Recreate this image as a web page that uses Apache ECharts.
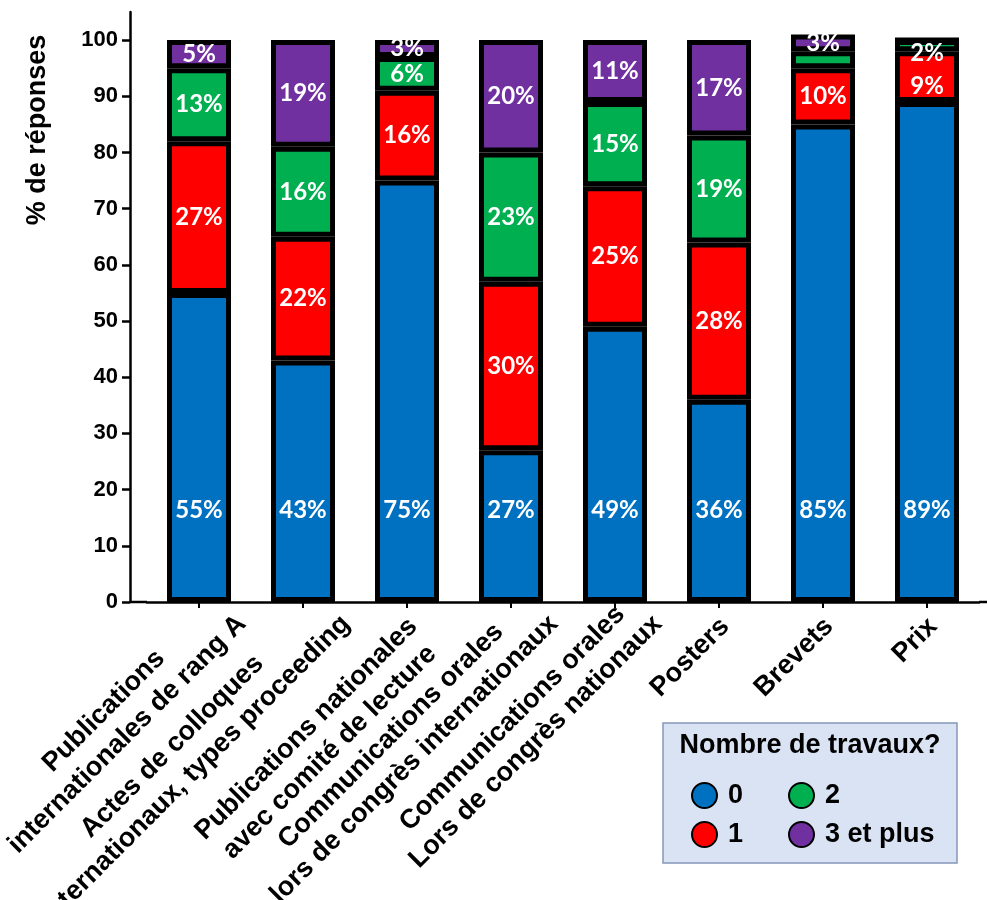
<!DOCTYPE html>
<html>
<head>
<meta charset="utf-8">
<script src="https://cdn.jsdelivr.net/npm/echarts@6/dist/echarts.min.js"></script>
<style>
html, body { margin: 0; padding: 0; background: #fff; }
#chart { width: 987px; height: 900px; }
</style>
</head>
<body>
<div id="chart"></div>
<script>
// categories (two lines each, as in the figure)
var categories = [
    "Publications\ninternationales de rang A",
    "Actes de colloques\ninternationaux, types proceeding",
    "Publications nationales\navec comité de lecture",
    "Communications orales\nlors de congrès internationaux",
    "Communications orales\nLors de congrès nationaux",
    "Posters",
    "Brevets",
    "Prix"
];
var seriesNames = ["0", "1", "2", "3 et plus"];

// % de réponses per number of works
var zeroWorks = [55, 43, 75, 27, 49, 36, 85, 89];
var oneWork = [27, 22, 16, 30, 25, 28, 10, 9];
var twoWorks = [13, 16, 6, 23, 15, 19, 3, 2];
var threePlus = [5, 19, 3, 20, 11, 17, 3, 0];

var yTicks = [0, 10, 20, 30, 40, 50, 60, 70, 80, 90, 100];

var colors = ["#0070C0", "#FF0000", "#00B050", "#7030A0"];
var axisFont = "Liberation Sans";
var labelFont = "bold 27px '" + axisFont + "'";

// layout
var gridLeft = 147;
var gridRight = 8;
var gridTop = 12;
var gridBottom = 298;
var yOffset = 17;
var axisY = 900 - gridBottom;

// labels that are hidden / nudged in the original figure
var hiddenLabels = { "Brevets": [2] };
var labelNudge = { "Prix": { 1: [0, 10], 2: [0, 8] } };

var chart = echarts.init(document.getElementById("chart"));

// the original puts labels whose last line is the longest a bit further along
var ctx = document.createElement("canvas").getContext("2d");
ctx.font = labelFont;
function lastLineLongest(name) {
    var lines = name.split("\n");
    if (lines.length < 2) return false;
    var w = lines.map(function(l) { return ctx.measureText(l).width; });
    return w[w.length - 1] > Math.max.apply(null, w.slice(0, -1));
}

function richLines(val) {
    return val.split("\n").map(function(line) {
        return "{c|" + line + "}";
    }).join("\n");
}

var richStyle = {
    c: {
        align: "center",
        fontFamily: axisFont,
        fontWeight: "bold",
        fontSize: 27,
        lineHeight: 33,
        color: "#000"
    }
};

var allValues = [zeroWorks, oneWork, twoWorks, threePlus];
var series = allValues.map(function(vals, s) {
    return {
        name: seriesNames[s],
        type: "bar",
        stack: "total",
        xAxisIndex: 0,
        barWidth: 64,
        itemStyle: {
            color: colors[s],
            borderColor: "#000",
            borderWidth: 5
        },
        label: {
            show: true,
            position: s === 0 ? "insideBottom" : "inside",
            distance: s === 0 ? 80 : 5,
            color: "#fff",
            fontFamily: "Lato",
            fontWeight: "bold",
            fontSize: 24,
            formatter: function(p) {
                return p.value === 0 ? "" : p.value + "%";
            }
        },
        data: vals.map(function(v, i) {
            var cat = categories[i];
            var item = { value: v };
            if (hiddenLabels[cat] && hiddenLabels[cat].indexOf(s) >= 0) {
                item.label = { show: false };
            }
            if (labelNudge[cat] && labelNudge[cat][s]) {
                item.label = { offset: labelNudge[cat][s] };
            }
            return item;
        })
    };
});

function legendPart(names, left) {
    return {
        data: names,
        orient: "vertical",
        left: left,
        top: 782,
        padding: 0,
        itemWidth: 37,
        itemHeight: 25,
        itemGap: 12,
        icon: "circle",
        itemStyle: { borderColor: "#000", borderWidth: 2 },
        textStyle: {
            fontFamily: axisFont,
            fontWeight: "bold",
            fontSize: 27,
            color: "#000",
            lineHeight: 25
        }
    };
}

var option = {
    animation: false,
    backgroundColor: "#fff",
    grid: {
        left: gridLeft,
        right: gridRight,
        top: gridTop,
        bottom: gridBottom,
        containLabel: false,
        outerBoundsMode: "none"
    },
    legend: [
        legendPart(["0", "1"], 691),
        legendPart(["2", "3 et plus"], 788)
    ],
    xAxis: [
        {
            type: "category",
            data: categories,
            axisLine: { show: true, lineStyle: { color: "#000", width: 2.5 } },
            axisTick: {
                show: true,
                alignWithLabel: true,
                length: 6,
                lineStyle: { color: "#000", width: 2 }
            },
            axisLabel: {
                interval: 0,
                rotate: 45,
                align: "right",
                verticalAlign: "top",
                margin: 3,
                padding: [0, 8, 0, 0],
                color: "#000",
                formatter: function(val) {
                    return lastLineLongest(val) ? "" : richLines(val);
                },
                rich: richStyle
            }
        },
        {
            // second copy of the axis, only for the labels ending on their long last line
            type: "category",
            data: categories,
            position: "bottom",
            axisLine: { show: false },
            axisTick: { show: false },
            axisLabel: {
                interval: 0,
                rotate: 45,
                align: "right",
                verticalAlign: "top",
                margin: -25,
                padding: [11, 0, 0, 0],
                color: "#000",
                formatter: function(val) {
                    return lastLineLongest(val) ? richLines(val) : "";
                },
                rich: richStyle
            }
        }
    ],
    yAxis: {
        type: "value",
        min: 0,
        max: 105,
        offset: yOffset,
        splitLine: { show: false },
        axisLine: { show: true, lineStyle: { color: "#000", width: 2.5 } },
        axisTick: {
            show: true,
            length: 8,
            customValues: yTicks,
            lineStyle: { color: "#000", width: 2.5 }
        },
        axisLabel: {
            customValues: yTicks,
            margin: 12,
            color: "#000",
            fontFamily: axisFont,
            fontWeight: "bold",
            fontSize: 22
        }
    },
    graphic: [
        // x axis line runs out to the offset y axis and to the right edge
        {
            type: "line",
            shape: { x1: gridLeft - yOffset, y1: axisY, x2: gridLeft, y2: axisY },
            style: { stroke: "#000", lineWidth: 2.5 }
        },
        {
            type: "line",
            shape: { x1: 987 - gridRight, y1: axisY, x2: 987, y2: axisY },
            style: { stroke: "#000", lineWidth: 2.5 }
        },
        {
            type: "text",
            x: 38,
            y: 130,
            rotation: Math.PI / 2,
            style: {
                text: "% de réponses",
                font: labelFont,
                fill: "#000",
                align: "center",
                verticalAlign: "middle"
            }
        },
        // legend box
        {
            type: "rect",
            z: 0,
            shape: { x: 663, y: 723, width: 294, height: 140 },
            style: { fill: "#DAE3F3", stroke: "#8497B9", lineWidth: 1.5 }
        },
        {
            type: "text",
            x: 810,
            y: 746,
            style: {
                text: "Nombre de travaux?",
                font: labelFont,
                fill: "#000",
                align: "center",
                verticalAlign: "middle"
            }
        }
    ],
    series: series
};

chart.setOption(option);
</script>
</body>
</html>
